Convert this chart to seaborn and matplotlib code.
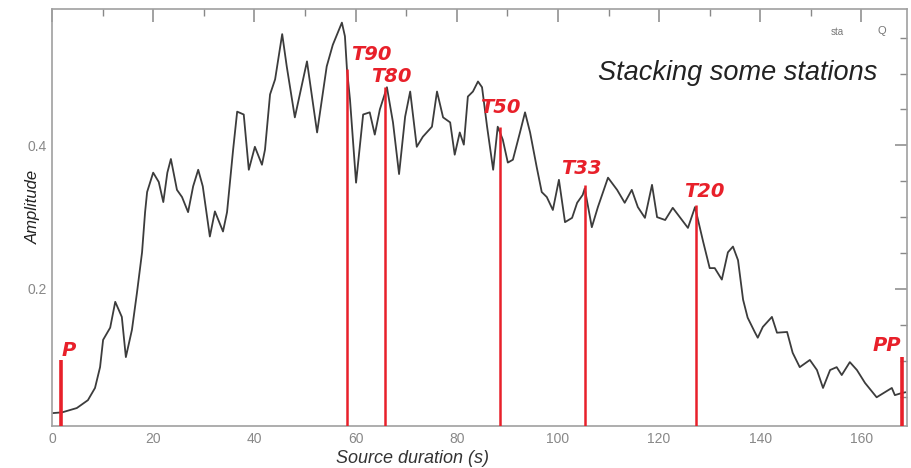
import numpy as np
import pandas as pd
import matplotlib
matplotlib.use("Agg")
import matplotlib.pyplot as plt
import seaborn as sns
from matplotlib.ticker import MultipleLocator, FixedLocator

# ---- data ----
time_s = [0.2, 2.0, 4.9, 7.1, 8.5, 9.5, 10.1, 11.5, 12.5, 13.8, 14.6, 15.8, 16.8, 17.8, 18.4, 18.8,
          20.0, 21.1, 22.0, 22.8, 23.5, 24.7, 25.7, 26.9, 27.9, 28.9, 29.8, 31.2, 32.2, 33.8, 34.6,
          35.8, 36.6, 37.9, 38.9, 40.1, 41.5, 42.1, 43.1, 44.1, 45.5, 46.4, 48.0, 50.4, 52.4, 54.3,
          55.5, 57.3, 57.9, 58.3, 58.9, 60.1, 61.5, 62.8, 63.8, 64.8, 66.2, 67.4, 68.6, 69.8, 70.8,
          72.1, 73.3, 75.1, 76.1, 77.3, 78.7, 79.6, 80.6, 81.4, 82.2, 83.2, 84.2, 85.0, 86.0, 87.2,
          88.1, 89.1, 90.1, 91.1, 92.5, 93.5, 94.5, 95.8, 96.8, 97.8, 99.0, 100.2, 101.4, 102.8,
          103.8, 104.9, 105.3, 106.7, 107.9, 109.9, 111.7, 113.2, 114.6, 115.8, 117.2, 118.6, 119.6,
          121.2, 122.7, 124.1, 125.7, 127.1, 128.7, 130.0, 131.0, 132.4, 133.6, 134.6, 135.6, 136.6,
          137.5, 138.9, 139.5, 140.5, 142.3, 143.3, 145.3, 146.4, 147.8, 149.8, 151.2, 152.4, 153.8,
          155.1, 156.1, 157.7, 159.1, 160.7, 163.0, 164.6, 166.0, 166.6, 168.0, 168.7]
amplitude = [0.027, 0.028, 0.034, 0.045, 0.062, 0.091, 0.129, 0.146, 0.182, 0.161, 0.105, 0.143,
             0.195, 0.251, 0.307, 0.335, 0.362, 0.349, 0.321, 0.362, 0.381, 0.338, 0.328, 0.307,
             0.343, 0.366, 0.343, 0.273, 0.308, 0.280, 0.307, 0.394, 0.447, 0.443, 0.366, 0.398,
             0.373, 0.394, 0.471, 0.492, 0.555, 0.510, 0.439, 0.517, 0.418, 0.510, 0.540, 0.571,
             0.552, 0.506, 0.464, 0.348, 0.443, 0.446, 0.415, 0.450, 0.481, 0.432, 0.360, 0.440,
             0.475, 0.398, 0.412, 0.426, 0.475, 0.439, 0.432, 0.387, 0.418, 0.401, 0.468, 0.475,
             0.489, 0.481, 0.426, 0.366, 0.426, 0.408, 0.376, 0.380, 0.418, 0.446, 0.418, 0.370,
             0.335, 0.328, 0.310, 0.352, 0.293, 0.299, 0.320, 0.331, 0.340, 0.286, 0.314, 0.355,
             0.338, 0.320, 0.338, 0.314, 0.299, 0.345, 0.300, 0.296, 0.313, 0.300, 0.285, 0.314,
             0.266, 0.229, 0.229, 0.213, 0.251, 0.259, 0.240, 0.185, 0.160, 0.140, 0.132, 0.147,
             0.161, 0.139, 0.140, 0.111, 0.091, 0.101, 0.087, 0.062, 0.087, 0.091, 0.080, 0.098,
             0.087, 0.069, 0.049, 0.056, 0.062, 0.052, 0.055, 0.056]

marker_labels = ["P", "T90", "T80", "T50", "T33", "T20", "PP"]
marker_times = [1.8, 58.3, 65.8, 88.5, 105.3, 127.3, 168.0]
marker_heights = [0.101, 0.506, 0.482, 0.426, 0.345, 0.317, 0.105]

x_ticks = [0, 20, 40, 60, 80, 100, 120, 140, 160]
y_ticks = [0.2, 0.4]

# ---- figure ----
sns.set_theme(style="white")
plt.rcParams['font.family'] = ['Liberation Sans', 'DejaVu Sans']

fig = plt.figure(figsize=(9.11, 4.68), dpi=100)
ax = fig.add_axes([52/911, 1-426/468, (907-52)/911, (426-9)/468])

df = pd.DataFrame({"t": time_s, "a": amplitude})
sns.lineplot(data=df, x="t", y="a", ax=ax, color="#3c3c3c", lw=1.3, sort=False)

ybase = 0.009
red = "#e8202a"
for lab, t, h in zip(marker_labels, marker_times, marker_heights):
    lw = 2.6 if lab in ("P", "PP") else 1.8
    ax.vlines(t, ybase, h, color=red, lw=lw, zorder=3)

label_offsets = {"P": (1.6, 0.006), "T90": (4.9, 0.013), "T80": (1.2, 0.006),
                 "T50": (0.2, 0.019), "T33": (-0.6, 0.015), "T20": (1.7, 0.011),
                 "PP": (-3.0, 0.009)}
for lab, t, h in zip(marker_labels, marker_times, marker_heights):
    dx, dy = label_offsets[lab]
    ax.text(t + dx, h + dy, lab, color=red, fontsize=14, fontweight="bold",
            fontstyle="italic", family=["DejaVu Sans"], ha="center", va="baseline",
            zorder=4)

ax.text(0.965, 0.847, "Stacking some stations", transform=ax.transAxes,
        fontsize=19.5, fontstyle="italic", color="#222222", ha="right", va="center")
ax.text(0.918, 0.945, "sta", transform=ax.transAxes, fontsize=7,
        color="#777777", ha="center", va="center")
ax.text(0.970, 0.947, "Q", transform=ax.transAxes, fontsize=8,
        color="#777777", ha="center", va="center")

ax.set_xlim(0, 169)
ax.set_ylim(ybase, 0.59)
ax.xaxis.set_major_locator(FixedLocator(x_ticks))
ax.xaxis.set_minor_locator(MultipleLocator(10))
ax.yaxis.set_major_locator(FixedLocator(y_ticks))
ax.yaxis.set_minor_locator(MultipleLocator(0.05))
ax.set_xticklabels([str(v) for v in x_ticks])
ax.set_yticklabels([str(v) for v in y_ticks])

for s in ax.spines.values():
    s.set_color("#a0a0a0")
    s.set_linewidth(1.2)
ax.tick_params(which="both", direction="in", top=True, right=True, colors="#888888",
               labelcolor="#888888", labelsize=10)
ax.tick_params(which="major", length=9, width=1.1)
ax.tick_params(which="minor", length=5, width=1.0)
ax.tick_params(axis="x", pad=4)

ax.set_xlabel("Source duration (s)", fontsize=13, fontstyle="italic", color="#333333",
              va="center")
ax.xaxis.set_label_coords((412-52)/855, -0.077)
ax.set_ylabel("Amplitude", fontsize=12, fontstyle="italic", color="#222222", va="center")
ax.yaxis.set_label_coords(-0.022, 0.525)

fig.savefig("out.png", dpi=100)
